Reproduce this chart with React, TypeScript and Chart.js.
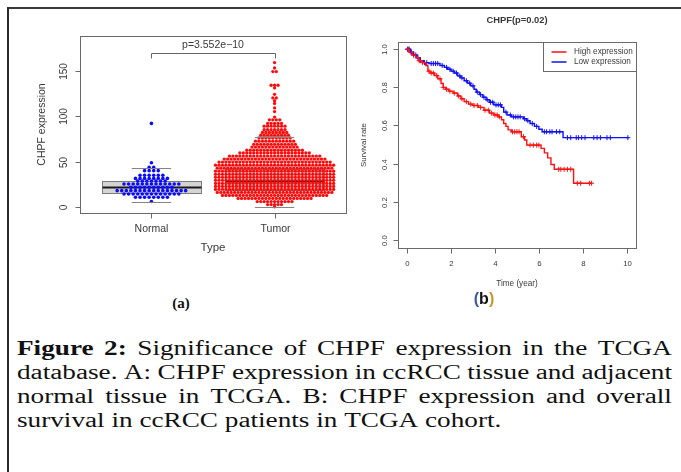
import React, { useEffect, useRef } from "react";
import { Chart, registerables } from "chart.js";

Chart.register(...registerables);

const SANS = "'Liberation Sans', Arial, Helvetica, sans-serif";
const SERIF = "'Liberation Serif', 'Times New Roman', serif";
const TEXT = "#3a3a3a";

// ---------------- Panel (a): expression swarm + boxplot ----------------
const groups = ["Normal", "Tumor"];
// swarm rows: expression level of each row and number of samples in it
const normalRowValues = [92, 48.7, 43.6, 40, 35, 31.5, 28.6, 25.3, 21.7, 18, 14.3, 10.7, 6];
const normalRowCounts = [1, 1, 2, 4, 6, 8, 7, 13, 10, 16, 13, 8, 1];
const tumorRowValues = [
  159, 153, 149, 134, 131, 124, 120, 117, 114, 109, 105, 99, 96, 92, 89, 85, 82, 79, 76, 72.5,
  69, 66, 62.5, 59.5, 56, 52.7, 49.4, 46, 42.7, 39.4, 36, 32.7, 29.4, 26, 22.7, 19.4, 16, 12.7,
  9.4, 6, 2.7, 0.3,
];
const tumorRowCounts = [
  1, 1, 2, 3, 1, 1, 2, 1, 1, 1, 1, 1, 4, 5, 7, 7, 8, 9, 10, 12,
  13, 14, 17, 21, 27, 30, 33, 35, 34, 35, 35, 35, 35, 35, 35, 35, 34, 31,
  22, 11, 5, 1,
];
// [lower whisker, Q1, median, Q3, upper whisker]
const normalBoxStats = [6, 15.5, 21.5, 28.5, 43];
const tumorBoxStats = [0, 19, 28, 42, 77];
const expressionTicks = [0, 50, 100, 150];
const pValueText = "p=3.552e\u221210";
const bracketLevel = 170;
const bracketFoot = 163.5;

// ---------------- Panel (b): Kaplan-Meier ----------------
const highTimes = [0, 0.1, 0.25, 0.4, 0.55, 0.7, 0.85, 0.95, 1.05, 1.25, 1.4, 1.55, 1.65, 1.75, 1.9, 2.1, 2.3, 2.45, 2.6, 2.8, 3.0, 3.25, 3.5, 3.75, 3.95, 4.15, 4.3, 4.4, 4.5, 4.6, 4.75, 5.2, 5.35, 5.45, 6.1, 6.25, 6.4, 6.55, 6.7, 7.58, 8.4];
const highSurv = [1.0, 0.985, 0.97, 0.955, 0.94, 0.93, 0.915, 0.885, 0.875, 0.862, 0.845, 0.82, 0.8, 0.79, 0.78, 0.77, 0.755, 0.74, 0.725, 0.712, 0.705, 0.695, 0.68, 0.665, 0.655, 0.645, 0.63, 0.61, 0.595, 0.577, 0.567, 0.541, 0.524, 0.497, 0.48, 0.456, 0.43, 0.395, 0.37, 0.297, 0.297];
const lowTimes = [0, 0.15, 0.3, 0.45, 0.6, 0.75, 1.0, 1.5, 1.7, 1.85, 2.0, 2.15, 2.3, 2.45, 2.6, 2.75, 2.9, 3.05, 3.15, 3.3, 3.45, 3.6, 3.75, 3.95, 4.3, 4.4, 4.55, 4.75, 5.3, 5.45, 5.6, 5.8, 6.0, 6.15, 7.1, 10.08];
const lowSurv = [1.0, 0.985, 0.97, 0.955, 0.94, 0.93, 0.925, 0.915, 0.905, 0.895, 0.885, 0.875, 0.86, 0.85, 0.835, 0.822, 0.808, 0.79, 0.775, 0.762, 0.748, 0.735, 0.722, 0.708, 0.695, 0.67, 0.655, 0.645, 0.635, 0.625, 0.61, 0.595, 0.58, 0.567, 0.536, 0.536];
const highCensorTimes = [0.05, 0.15, 0.3, 0.55, 0.7, 1.0, 1.1, 1.2, 1.35, 1.5, 1.65, 1.8, 1.95, 2.15, 2.35, 2.5, 2.7, 2.9, 3.05, 3.2, 3.35, 3.55, 3.7, 3.85, 4.0, 4.1, 4.2, 4.8, 4.9, 5.0, 5.1, 5.3, 5.6, 5.75, 5.9, 6.0, 6.9, 7.0, 7.15, 7.3, 7.45, 7.75, 7.9, 8.3, 8.4];
const lowCensorTimes = [0.02, 0.05, 0.1, 0.2, 0.3, 0.4, 0.5, 0.6, 0.8, 0.9, 1.1, 1.2, 1.3, 1.4, 1.6, 1.8, 1.95, 2.1, 2.25, 2.4, 2.5, 2.7, 2.85, 3.0, 3.2, 3.35, 3.5, 3.65, 3.8, 3.9, 4.05, 4.15, 4.25, 4.5, 4.7, 4.85, 4.95, 5.05, 5.15, 5.35, 5.5, 5.7, 5.9, 6.25, 6.35, 6.5, 6.6, 6.8, 6.95, 7.3, 7.45, 7.7, 7.8, 7.95, 8.1, 8.5, 8.65, 8.8, 9.1, 9.25, 10.05];
const seriesNames = ["High expression", "Low expression"];
const timeTicks = [0, 2, 4, 6, 8, 10];
const survivalTicks = [0, 0.2, 0.4, 0.6, 0.8, 1.0];
const kmTitle = "CHPF(p=0.02)";

const RED = "#ff1010";
const BLUE = "#1010f0";

function survivalAt(times: number[], surv: number[], t: number) {
  let s = surv[0];
  for (let i = 0; i < times.length; i++) if (times[i] <= t) s = surv[i];
  return s;
}

function swarm(values: number[], counts: number[], center: number, step: number) {
  const pts: { x: number; y: number }[] = [];
  values.forEach((v, r) => {
    const n = counts[r];
    for (let i = 0; i < n; i++) pts.push({ x: center + (i - (n - 1) / 2) * step, y: v });
  });
  return pts;
}

function hline(ctx: CanvasRenderingContext2D, x1: number, x2: number, y: number) {
  ctx.beginPath();
  ctx.moveTo(x1, y);
  ctx.lineTo(x2, y);
  ctx.stroke();
}
function vline(ctx: CanvasRenderingContext2D, x: number, y1: number, y2: number) {
  ctx.beginPath();
  ctx.moveTo(x, y1);
  ctx.lineTo(x, y2);
  ctx.stroke();
}
function rotText(ctx: CanvasRenderingContext2D, text: string, x: number, y: number) {
  ctx.save();
  ctx.translate(x, y);
  ctx.rotate(-Math.PI / 2);
  ctx.textAlign = "center";
  ctx.textBaseline = "middle";
  ctx.fillText(text, 0, 0);
  ctx.restore();
}

const A_XMIN = 0.42, A_XMAX = 2.58;
const A_PLOT_W = 268;

function PanelA() {
  const ref = useRef<HTMLCanvasElement>(null);
  useEffect(() => {
    const pxPerUnit = A_PLOT_W / (A_XMAX - A_XMIN);
    const plugin = {
      id: "panelA",
      beforeDatasetsDraw(chart: any) {
        const { ctx, scales } = chart;
        const x = scales.x, y = scales.y;
        [normalBoxStats, tumorBoxStats].forEach((s, gi) => {
          const c = gi + 1;
          const l = Math.round(x.getPixelForValue(c - 0.4)) + 0.5;
          const r = Math.round(x.getPixelForValue(c + 0.4)) + 0.5;
          const t = Math.round(y.getPixelForValue(s[3])) + 0.5;
          const b = Math.round(y.getPixelForValue(s[1])) + 0.5;
          ctx.save();
          ctx.fillStyle = "#d4d4d4";
          ctx.fillRect(l, t, r - l, b - t);
          ctx.strokeStyle = "#7c7c7c";
          ctx.lineWidth = 1;
          ctx.strokeRect(l, t, r - l, b - t);
          ctx.strokeStyle = "#1a1a1a";
          ctx.lineWidth = 2;
          hline(ctx, l, r, y.getPixelForValue(s[2]));
          ctx.restore();
        });
      },
      afterDatasetsDraw(chart: any) {
        const { ctx, scales, chartArea } = chart;
        const x = scales.x, y = scales.y;
        ctx.save();
        // whisker caps
        ctx.strokeStyle = "#858585";
        ctx.lineWidth = 1;
        [normalBoxStats, tumorBoxStats].forEach((s, gi) => {
          const c = gi + 1;
          const l = x.getPixelForValue(c - 0.16), r = x.getPixelForValue(c + 0.16);
          hline(ctx, l, r, Math.round(y.getPixelForValue(s[0])) + 0.5);
          hline(ctx, l, r, Math.round(y.getPixelForValue(s[4])) + 0.5);
        });
        // frame
        ctx.strokeStyle = "#6a6a6a";
        ctx.lineWidth = 1;
        const L = Math.round(chartArea.left) + 0.5, R = Math.round(chartArea.right) + 0.5;
        const T = Math.round(chartArea.top) + 0.5, B = Math.round(chartArea.bottom) + 0.5;
        ctx.strokeRect(L, T, R - L, B - T);
        // y axis
        ctx.fillStyle = TEXT;
        ctx.font = `10px ${SANS}`;
        expressionTicks.forEach((v) => {
          const py = Math.round(y.getPixelForValue(v)) + 0.5;
          hline(ctx, L - 5, L, py);
          rotText(ctx, String(v), L - 16, py);
        });
        // x axis
        groups.forEach((g, i) => {
          const px = Math.round(x.getPixelForValue(i + 1)) + 0.5;
          vline(ctx, px, B, B + 5);
          ctx.font = `10.5px ${SANS}`;
          ctx.textAlign = "center";
          ctx.textBaseline = "middle";
          ctx.fillText(g, px, B + 15.5);
        });
        const mid = (x.getPixelForValue(1) + x.getPixelForValue(2)) / 2;
        ctx.font = `11.5px ${SANS}`;
        ctx.fillText("Type", mid, B + 34.5);
        ctx.font = `10.5px ${SANS}`;
        rotText(ctx, "CHPF expression", 42, (chartArea.top + chartArea.bottom) / 2);
        // significance bracket
        ctx.strokeStyle = "#666";
        const bx1 = Math.round(x.getPixelForValue(1)) + 0.5, bx2 = Math.round(x.getPixelForValue(2)) + 0.5;
        const by = Math.round(y.getPixelForValue(bracketLevel)) + 0.5;
        const bf = y.getPixelForValue(bracketFoot);
        ctx.beginPath();
        ctx.moveTo(bx1, bf);
        ctx.lineTo(bx1, by);
        ctx.lineTo(bx2, by);
        ctx.lineTo(bx2, bf);
        ctx.stroke();
        ctx.textAlign = "center";
        ctx.textBaseline = "middle";
        ctx.fillText(pValueText, mid, by - 8.5);
        ctx.restore();
      },
    };
    const stepNormal = 4.6 / pxPerUnit;
    const stepTumor = 3.5 / pxPerUnit;
    const chart = new Chart(ref.current!, {
      type: "scatter",
      data: {
        datasets: [
          {
            data: swarm(normalRowValues, normalRowCounts, 1, stepNormal),
            backgroundColor: "#0a0aff",
            pointRadius: 1.8,
            borderWidth: 0,
          },
          {
            data: swarm(tumorRowValues, tumorRowCounts, 2, stepTumor),
            backgroundColor: "#ff0a0a",
            pointRadius: 1.65,
            borderWidth: 0,
          },
        ],
      },
      options: {
        animation: false,
        responsive: false,
        devicePixelRatio: 1,
        events: [],
        layout: { padding: { left: 80, top: 36, right: 350 - 80 - A_PLOT_W, bottom: 260 - 213 } },
        scales: {
          x: { type: "linear", min: A_XMIN, max: A_XMAX, display: false },
          y: { type: "linear", min: -6.6, max: 188.2, display: false },
        },
        plugins: { legend: { display: false }, tooltip: { enabled: false } },
      },
      plugins: [plugin],
    } as any);
    return () => chart.destroy();
  }, []);
  return <canvas ref={ref} width={350} height={260} style={{ position: "absolute", left: 0, top: 0 }} />;
}

function PanelB() {
  const ref = useRef<HTMLCanvasElement>(null);
  useEffect(() => {
    const plugin = {
      id: "panelB",
      afterDraw(chart: any) {
        const { ctx, scales, chartArea } = chart;
        const x = scales.x, y = scales.y;
        ctx.save();
        ctx.strokeStyle = "#6a6a6a";
        ctx.lineWidth = 1;
        const L = Math.round(chartArea.left) + 0.5, R = Math.round(chartArea.right) + 0.5;
        const T = Math.round(chartArea.top) + 0.5, B = Math.round(chartArea.bottom) + 0.5;
        ctx.strokeRect(L, T, R - L, B - T);
        ctx.fillStyle = TEXT;
        ctx.font = `7.8px ${SANS}`;
        survivalTicks.forEach((v) => {
          const py = Math.round(y.getPixelForValue(v)) + 0.5;
          hline(ctx, L - 5, L, py);
          rotText(ctx, v.toFixed(1), L - 14, py);
        });
        ctx.textAlign = "center";
        ctx.textBaseline = "middle";
        timeTicks.forEach((v) => {
          const px = Math.round(x.getPixelForValue(v)) + 0.5;
          vline(ctx, px, B, B + 5);
          ctx.fillText(String(v), px, B + 15);
        });
        const cx = (chartArea.left + chartArea.right) / 2;
        ctx.font = `8.2px ${SANS}`;
        ctx.fillText("Time (year)", cx, B + 35.5);
        ctx.font = `7.9px ${SANS}`;
        rotText(ctx, "Survival rate", 14, (chartArea.top + chartArea.bottom) / 2);
        ctx.font = `bold 9.4px ${SANS}`;
        ctx.textAlign = "center";
        ctx.fillText(kmTitle, cx, 20.5);
        // legend
        const lw = 93, lh = 29;
        const lx = R - lw, ly = T;
        ctx.fillStyle = "#fff";
        ctx.fillRect(lx, ly, lw, lh);
        ctx.strokeStyle = "#6a6a6a";
        ctx.strokeRect(lx, ly, lw, lh);
        ctx.font = `8.2px ${SANS}`;
        ctx.textAlign = "left";
        [RED, BLUE].forEach((col, i) => {
          const yy = ly + 9.5 + i * 10;
          ctx.strokeStyle = col;
          ctx.lineWidth = 1.5;
          hline(ctx, lx + 8, lx + 23, yy);
          ctx.fillStyle = TEXT;
          ctx.fillText(seriesNames[i], lx + 30.5, yy);
        });
        ctx.restore();
      },
    };
    const stepData = (t: number[], s: number[]) => t.map((tt, i) => ({ x: tt, y: s[i] }));
    const censorData = (c: number[], t: number[], s: number[]) => c.map((tt) => ({ x: tt, y: survivalAt(t, s, tt) }));
    const chart = new Chart(ref.current!, {
      type: "line",
      data: {
        datasets: [
          {
            label: seriesNames[0],
            data: stepData(highTimes, highSurv),
            stepped: true,
            borderColor: RED,
            borderWidth: 1.4,
            pointRadius: 0,
            fill: false,
          },
          {
            label: seriesNames[1],
            data: stepData(lowTimes, lowSurv),
            stepped: true,
            borderColor: BLUE,
            borderWidth: 1.4,
            pointRadius: 0,
            fill: false,
          },
          {
            type: "scatter",
            data: censorData(highCensorTimes, highTimes, highSurv),
            pointStyle: "cross",
            pointRadius: 2.5,
            borderColor: RED,
            borderWidth: 1,
          },
          {
            type: "scatter",
            data: censorData(lowCensorTimes, lowTimes, lowSurv),
            pointStyle: "cross",
            pointRadius: 2.5,
            borderColor: BLUE,
            borderWidth: 1,
          },
        ],
      },
      options: {
        animation: false,
        responsive: false,
        devicePixelRatio: 1,
        events: [],
        layout: { padding: { left: 48, top: 42, right: 45, bottom: 52 } },
        scales: {
          x: { type: "linear", min: -0.41, max: 10.42, display: false },
          y: { type: "linear", min: -0.043, max: 1.038, display: false },
        },
        plugins: { legend: { display: false }, tooltip: { enabled: false } },
      },
      plugins: [plugin],
    } as any);
    return () => chart.destroy();
  }, []);
  return <canvas ref={ref} width={331} height={300} style={{ position: "absolute", left: 350, top: 0 }} />;
}

const captionLines: string[][] = [
  ["Figure", "2:", "Significance", "of", "CHPF", "expression", "in", "the", "TCGA"],
  ["database.", "A:", "CHPF", "expression", "in", "ccRCC", "tissue", "and", "adjacent"],
  ["normal", "tissue", "in", "TCGA.", "B:", "CHPF", "expression", "and", "overall"],
  ["survival", "in", "ccRCC", "patients", "in", "TCGA", "cohort."],
];
const boldWords = 2;

export default function App() {
  const SX = 1.36;
  const W = 655 / SX;
  return (
    <div style={{ position: "fixed", left: 0, top: 0, width: 681, height: 472, background: "#fff", overflow: "hidden" }}>
      <div style={{ position: "absolute", left: 8, top: 7, width: 673, height: 2, background: "#3a3a3a" }} />
      <div style={{ position: "absolute", left: 7, top: 7, width: 2, height: 465, background: "#2a2a2a" }} />
      <PanelA />
      <PanelB />
      <div style={{ position: "absolute", left: 161, top: 293, width: 40, textAlign: "center", fontFamily: SERIF, fontWeight: "bold", fontSize: 15, lineHeight: "20px", color: "#111" }}>(a)</div>
      <div style={{ position: "absolute", left: 464, top: 289, width: 40, textAlign: "center", fontFamily: SANS, fontWeight: "bold", fontSize: 16, lineHeight: "20px", color: "#111" }}>
        <span style={{ color: "#3a5a9a" }}>(</span>b<span style={{ color: "#c8962a" }}>)</span>
      </div>
      {captionLines.map((words, li) => {
        const last = li === captionLines.length - 1;
        return (
          <div
            key={li}
            style={{
              position: "absolute",
              left: 17,
              top: 335.5 + li * 24.2,
              width: W,
              transform: `scaleX(${SX})`,
              transformOrigin: "left top",
              fontFamily: SERIF,
              fontSize: 20,
              lineHeight: "24px",
              color: "#111",
              display: "flex",
              justifyContent: last ? "flex-start" : "space-between",
              whiteSpace: "nowrap",
            }}
          >
            {words.map((w, wi) => (
              <span key={wi} style={{ fontWeight: li === 0 && wi < boldWords ? "bold" : "normal", marginRight: last ? "0.25em" : 0 }}>
                {w}
              </span>
            ))}
          </div>
        );
      })}
    </div>
  );
}
